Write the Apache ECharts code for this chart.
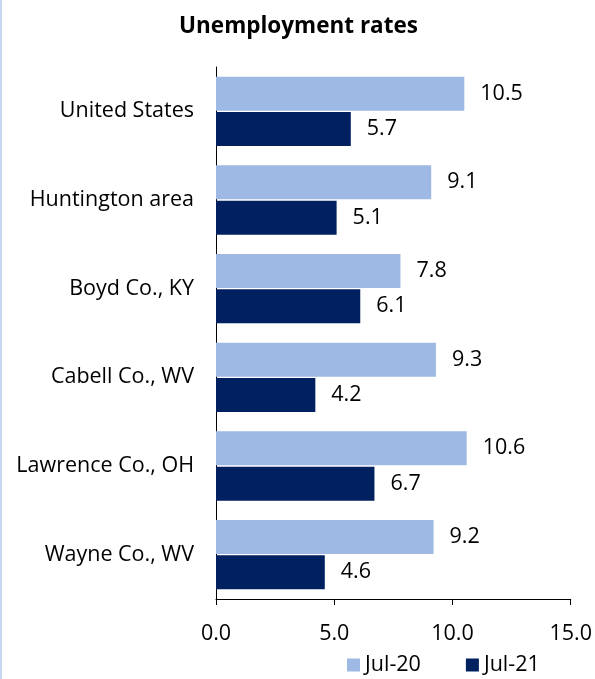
<!DOCTYPE html>
<html>
<head>
<meta charset="utf-8">
<script src="https://cdn.jsdelivr.net/npm/echarts@6/dist/echarts.min.js"></script>
<style>
  html, body { margin: 0; padding: 0; background: #fff; }
  #chart { width: 593px; height: 679px; border-left: 2px solid #c6d6f1; }
</style>
</head>
<body>
<div id="chart"></div>
<script>
// data
var categories = ['United States', 'Huntington area', 'Boyd Co., KY', 'Cabell Co., WV', 'Lawrence Co., OH', 'Wayne Co., WV'];
var jul20 = [10.5, 9.1, 7.8, 9.3, 10.6, 9.2];
var jul21 = [5.7, 5.1, 6.1, 4.2, 6.7, 4.6];
var xTicks = [0, 5, 10, 15];

var font = '"Open Sans", sans-serif';
var myChart = echarts.init(document.getElementById('chart'));

var label = {
  show: true,
  position: 'right',
  distance: 16,
  color: '#000',
  fontSize: 21.5,
  fontFamily: font,
  formatter: function (p) { return p.value.toFixed(1); }
};

var option = {
  animation: false,
  title: {
    text: 'Unemployment rates',
    left: 'center',
    top: 10,
    textStyle: { fontSize: 22.5, fontWeight: 'bold', color: '#000', fontFamily: font }
  },
  legend: {
    data: ['Jul-20', 'Jul-21'],
    bottom: -2,
    left: 340,
    itemWidth: 13,
    itemHeight: 13,
    itemGap: 45,
    icon: 'rect',
    textStyle: { fontSize: 21.5, color: '#000', fontFamily: font }
  },
  grid: { left: 214, right: 24, top: 67, bottom: 80 },
  xAxis: {
    type: 'value',
    min: xTicks[0],
    max: xTicks[xTicks.length - 1],
    interval: 5,
    splitLine: { show: false },
    axisLine: { show: true, lineStyle: { color: '#000', width: 1 } },
    axisTick: { show: true, length: 6, lineStyle: { color: '#000' } },
    axisLabel: {
      color: '#000', fontSize: 21.5, fontFamily: font, margin: 24,
      formatter: function (v) { return v.toFixed(1); }
    }
  },
  yAxis: {
    type: 'category',
    data: categories,
    inverse: true,
    axisLine: { show: true, lineStyle: { color: '#000', width: 1 } },
    axisTick: { show: false },
    axisLabel: { color: '#000', fontSize: 21.5, fontFamily: font, margin: 22, padding: [4, 0, 0, 0] }
  },
  series: [
    {
      name: 'Jul-20',
      type: 'bar',
      data: jul20,
      barWidth: 34,
      barGap: '4%',
      itemStyle: { color: '#9ebae4' },
      label: label
    },
    {
      name: 'Jul-21',
      type: 'bar',
      data: jul21,
      barWidth: 34,
      itemStyle: { color: '#002060' },
      label: label
    }
  ]
};

myChart.setOption(option);
</script>
</body>
</html>
